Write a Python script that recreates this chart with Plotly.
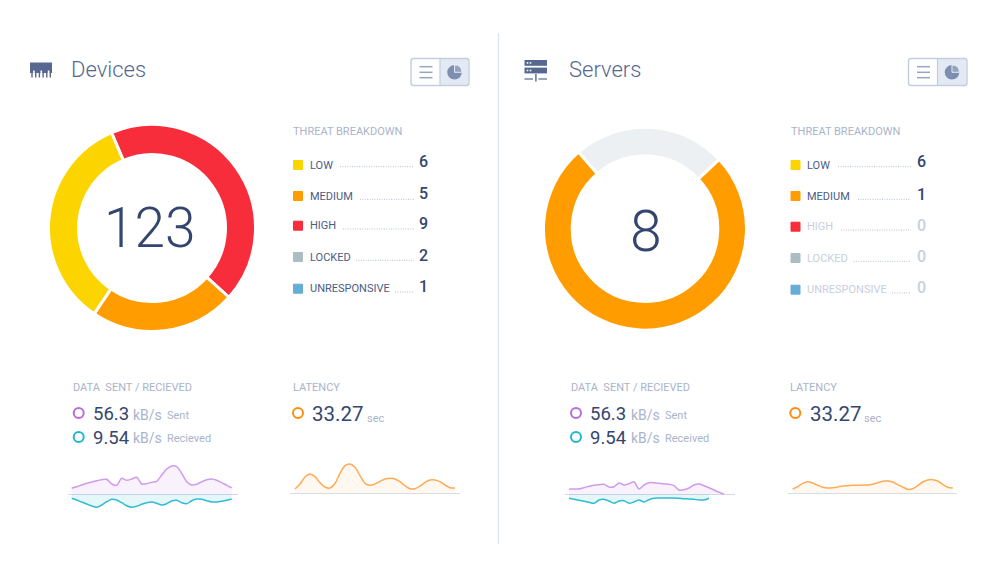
import plotly.graph_objects as go

W, H = 1000, 571

# donut slices, in degrees
device_slices = [155, 82, 123]
device_slice_colors = ["#f72d3b", "#ff9c00", "#fcd500"]
server_slices = [88, 272]
server_slice_colors = ["#ecf0f3", "#ff9c00"]

categories = ["LOW", "MEDIUM", "HIGH", "LOCKED", "UNRESPONSIVE"]
category_colors = ["#fcd500", "#ff9c00", "#f72d3b", "#abbcc3", "#64add4"]
device_counts = [6, 5, 9, 2, 1]
server_counts = [6, 1, 0, 0, 0]

# sparklines, height above/below the baseline, one sample per 5px
dev_sent = [5.7, 7.3, 9, 10.7, 12, 13.3, 14.3, 14.7, 10, 8.7, 15.7, 13.7, 15, 16.7, 10, 10.3, 11.7,
            12.7, 19, 25, 28, 27.3, 20.7, 12.3, 9, 9.7, 12.3, 14.3, 15, 13.7, 11.3, 8.7, 6.3]
dev_recv = [-4.3, -6, -8, -10, -12, -13.3, -11, -7.7, -5.3, -6, -8.7, -11.7, -13.3, -12.3, -10.3, -8.7,
            -8, -9.3, -11, -9.7, -7, -6.3, -8.7, -9.7, -6.7, -5, -5.3, -6.7, -8, -8, -7.3, -6.3, -5]
dev_latency = [4, 9, 16, 19, 16.3, 10.3, 6, 5, 9.7, 19.7, 27.3, 29, 25.7, 17.3, 9.7, 7.7, 9,
               11.7, 14, 14.7, 14, 11.3, 7.3, 4.3, 4.3, 7, 10.7, 13, 13, 11.3, 8, 5.3, 5]
srv_sent = [5, 5, 5, 6.3, 7.7, 8.7, 9.3, 9.7, 7, 7.3, 11, 9, 10.3, 12.3, 5, 9, 11.3, 11.3,
            10.7, 10, 9.7, 8.3, 4, 4.3, 6, 9, 10, 8.3, 6.3, 4, 1.7, 0]
srv_recv = [-4.3, -5.3, -6.3, -7.3, -8.3, -9.3, -6, -5.3, -7, -9.3, -7, -6.7, -9.3, -8, -6, -8, -5.7,
            -4.3, -4, -4, -4, -4, -4.3, -4.7, -5, -5.3, -6, -6, -4.3]
srv_latency = [4, 6.3, 9.7, 11.3, 10, 7.7, 5.7, 5, 5.3, 6, 7, 7.3, 7.7, 7.7, 8, 8, 8.7,
               10.3, 11.7, 12.3, 11, 8.3, 6, 3.7, 4.3, 7.3, 11, 13, 13.3, 12, 8.7, 5.7, 5]

NAVY = "#34466f"
LABEL = "#4b5c85"
MUTED = "#a9b4cb"
FADED = "#c8cfde"
FONT = "Roboto"

shapes = []
notes = []


def text(x, y, s, size, color, weight=400, anchor="left"):
    notes.append(dict(x=x, y=y, xref="x", yref="y", text=s, showarrow=False, xanchor=anchor,
                      yanchor="middle", borderpad=0, borderwidth=0,
                      font=dict(family=FONT, size=size, color=color, weight=weight)))


def rect(x0, y0, x1, y1, fill, line=None, width=0):
    shapes.append(dict(type="rect", xref="x", yref="y", x0=x0, y0=y0, x1=x1, y1=y1, fillcolor=fill,
                       line=dict(color=line or fill, width=width)))


def hline(x0, x1, y, color, width=1.0, dash="solid"):
    shapes.append(dict(type="line", xref="x", yref="y", x0=x0, x1=x1, y0=y, y1=y,
                       line=dict(color=color, width=width, dash=dash)))


def ring(cx, cy, r, color):
    shapes.append(dict(type="circle", xref="x", yref="y", x0=cx - r, x1=cx + r, y0=cy - r, y1=cy + r,
                       line=dict(color=color, width=2), fillcolor="rgba(0,0,0,0)"))


def rounded(x0, y0, x1, y1, r):
    return (f"M {x0 + r} {y0} L {x1 - r} {y0} Q {x1} {y0} {x1} {y0 + r} L {x1} {y1 - r} Q {x1} {y1} {x1 - r} {y1} "
            f"L {x0 + r} {y1} Q {x0} {y1} {x0} {y1 - r} L {x0} {y0 + r} Q {x0} {y0} {x0 + r} {y0} Z")


def toggle(x0, mid, x1):
    rect(mid, 59, x1 - 1, 85, "#e3eaf3")
    shapes.append(dict(type="path", xref="x", yref="y", path=rounded(x0, 58.5, x1, 85.5, 2.5),
                       line=dict(color="#c3cddd", width=1.4), fillcolor="rgba(0,0,0,0)"))
    shapes.append(dict(type="line", xref="x", yref="y", x0=mid, x1=mid, y0=58.5, y1=85.5,
                       line=dict(color="#c3cddd", width=1.2)))
    lx = x0 + 8.5
    for ly in (66.7, 72.3, 77.7):
        hline(lx, lx + 13, ly, "#98a6bf", 1.5)
    cx, cy = mid + 14.5, 72.3
    shapes.append(dict(type="circle", xref="x", yref="y", x0=cx - 7.3, x1=cx + 7.3, y0=cy - 7.3, y1=cy + 7.3,
                       fillcolor="#7c8fb0", line=dict(width=0)))
    shapes.append(dict(type="path", xref="x", yref="y", fillcolor="#93a3bf", line=dict(color="#e3eaf3", width=1),
                       path=f"M {cx} {cy} L {cx} {cy - 7.3} Q {cx + 7.3} {cy - 7.3} {cx + 7.3} {cy} Z"))


def threat_table(square_x, label_x, num_x, label_ys, num_ys, lead_ys, lead_starts, lead_end, counts, dim_from):
    text(square_x, 131, "THREAT BREAKDOWN", 11, MUTED)
    for i, name in enumerate(categories):
        dim = i >= dim_from
        rect(square_x + 0.5, label_ys[i] - 4.5, square_x + 9.5, label_ys[i] + 4.5, category_colors[i],
             category_colors[i], 1)
        text(label_x, label_ys[i], name, 11, FADED if dim else LABEL)
        text(num_x, num_ys[i], str(counts[i]), 16, FADED if dim else NAVY, 500, "center")
        hline(lead_starts[i], lead_end, lead_ys[i], "#b3bed2", 1, "1px 1.4px")


def stats(head_x, ring_x, val_x, unit_x, note_x, recv_word, lat_x, lat_ring, lat_val, sec_x):
    text(head_x, 387, "DATA\u00a0 SENT / RECIEVED", 11, MUTED)
    ring(ring_x, 413, 5, "#b86be0")
    ring(ring_x, 437, 5, "#1fb6d0")
    text(val_x, 414, "56.3", 18.5, NAVY)
    text(val_x, 437.5, "9.54", 18.5, NAVY)
    text(unit_x, 414.5, "kB/s", 14, MUTED)
    text(unit_x, 438, "kB/s", 14, MUTED)
    text(note_x, 415.5, "Sent", 11, MUTED)
    text(note_x, 438, recv_word, 11, MUTED)
    text(lat_x, 387, "LATENCY", 11, MUTED)
    ring(lat_ring, 413, 5, "#ff8c0f")
    text(lat_val, 413.5, "33.27", 20.5, NAVY)
    text(sec_x, 418, "sec", 11, MUTED)


fig = go.Figure()


def donut(values, colors, cx, cy, r, hole, rotation):
    fig.add_trace(go.Pie(values=values, sort=False, direction="clockwise", rotation=rotation, hole=hole,
                         textinfo="none", hoverinfo="skip", showlegend=False,
                         marker=dict(colors=colors, line=dict(color="white", width=3)),
                         domain=dict(x=[(cx - r) / W, (cx + r) / W], y=[1 - (cy + r) / H, 1 - (cy - r) / H])))


donut(device_slices, device_slice_colors, 152, 228, 103.5, 0.71, 337)
donut(server_slices, server_slice_colors, 645, 228.7, 101.5, 0.717, 319)

axes = {}


def spark(n, x0, x1, first_x, baseline, top, bottom, base_color, series):
    # one axis pair per sparkline; x is the sample index, y is px-sized units
    x_left = (x0 - first_x) / 5
    x_right = (x1 - first_x) / 5
    axes[f"xaxis{n}"] = dict(domain=[x0 / W, x1 / W], range=[x_left, x_right], visible=False, anchor=f"y{n}")
    axes[f"yaxis{n}"] = dict(domain=[1 - (baseline + bottom) / H, 1 - (baseline - top) / H], range=[-bottom, top],
                             anchor=f"x{n}", showgrid=False, showticklabels=False, ticks="", showline=False,
                             zeroline=True, zerolinecolor=base_color, zerolinewidth=1.2)
    for values, line_color, fill_color in series:
        fig.add_trace(go.Scatter(x=list(range(len(values))), y=values, mode="lines", xaxis=f"x{n}", yaxis=f"y{n}",
                                 line=dict(color=line_color, width=1.5, shape="spline", smoothing=0.8),
                                 fill="tozeroy", fillcolor=fill_color, hoverinfo="skip", showlegend=False))


SENT_LINE, SENT_FILL = "#cf9cec", "rgba(184,107,224,0.09)"
RECV_LINE, RECV_FILL = "#2fbcd3", "rgba(31,182,208,0.11)"
LAT_LINE, LAT_FILL = "#ffab57", "rgba(255,150,40,0.07)"

spark(2, 68, 238, 71.7, 494, 34, 16, "#d3d9ea", [(dev_sent, SENT_LINE, SENT_FILL), (dev_recv, RECV_LINE, RECV_FILL)])
spark(3, 290, 459.5, 295, 493, 34, 4, "#d5dde5", [(dev_latency, LAT_LINE, LAT_FILL)])
spark(4, 565, 735, 569, 494, 34, 16, "#d3d9ea", [(srv_sent, SENT_LINE, SENT_FILL), (srv_recv, RECV_LINE, RECV_FILL)])
spark(5, 787.5, 957, 792.7, 493, 34, 4, "#d5dde5", [(srv_latency, LAT_LINE, LAT_FILL)])

# panel divider
shapes.append(dict(type="line", xref="x", yref="y", x0=498.5, x1=498.5, y0=33, y1=544,
                   line=dict(color="#d9e3ea", width=1.2)))

# devices icon
rect(30, 62.5, 52, 73, "#56688f")
for tooth_x in (32, 35.7, 39.4, 43.1, 46.8, 50.3):
    rect(tooth_x - 0.7, 72, tooth_x + 0.7, 77.5, "#56688f")
for slit_x in (33.9, 41.3, 48.6):
    rect(slit_x - 0.8, 70.5, slit_x + 0.8, 73.5, "white")

# servers icon
for top_y in (60, 67.6):
    rect(524.5, top_y, 547, top_y + 5.8, "#56688f")
    for dot_x in (527.5, 530.5):
        rect(dot_x - 0.8, top_y + 2.1, dot_x + 0.8, top_y + 3.7, "white")
hline(524.5, 533, 79, "#56688f", 1.2)
hline(538.5, 547, 79, "#56688f", 1.2)
rect(535.2, 74, 536.6, 81.5, "#56688f")

text(71, 69, "Devices", 22, "#56688f", 300)
text(569, 69, "Servers", 22, "#56688f", 300)
toggle(411, 440, 469)
toggle(908.5, 937.5, 967)

text(150, 228, "123", 55, NAVY, 300, "center")
text(645.5, 231, "8", 57, NAVY, 300, "center")

threat_table(293, 309.7, 423.5, [165, 196, 225.7, 257, 288.7], [161, 193.7, 223.7, 255, 286.7],
             [166.7, 199.3, 229, 260.3, 292], [340, 360, 343, 356, 395], 414, device_counts, 5)
threat_table(790.5, 806.7, 921.7, [165, 196, 226.7, 258, 289.7], [161, 194, 225, 256, 287.7],
             [166.7, 199.3, 230, 261.3, 293], [838, 858, 841, 853.7, 892], 911, server_counts, 2)

stats(73, 78.7, 93, 133, 167, "Recieved", 292.5, 298, 312, 367)
stats(571, 576, 590, 631, 665, "Received", 790, 795.3, 809.7, 864)

fig.update_layout(
    width=W, height=H, margin=dict(l=0, r=0, t=0, b=0), paper_bgcolor="white", plot_bgcolor="rgba(0,0,0,0)",
    showlegend=False, shapes=shapes, annotations=notes,
    xaxis=dict(range=[0, W], domain=[0, 1], visible=False),
    yaxis=dict(range=[H, 0], domain=[0, 1], visible=False),
    **axes,
)

fig.write_html("out.html", post_script="document.body.style.margin='0';", config=dict(displayModeBar=False))
